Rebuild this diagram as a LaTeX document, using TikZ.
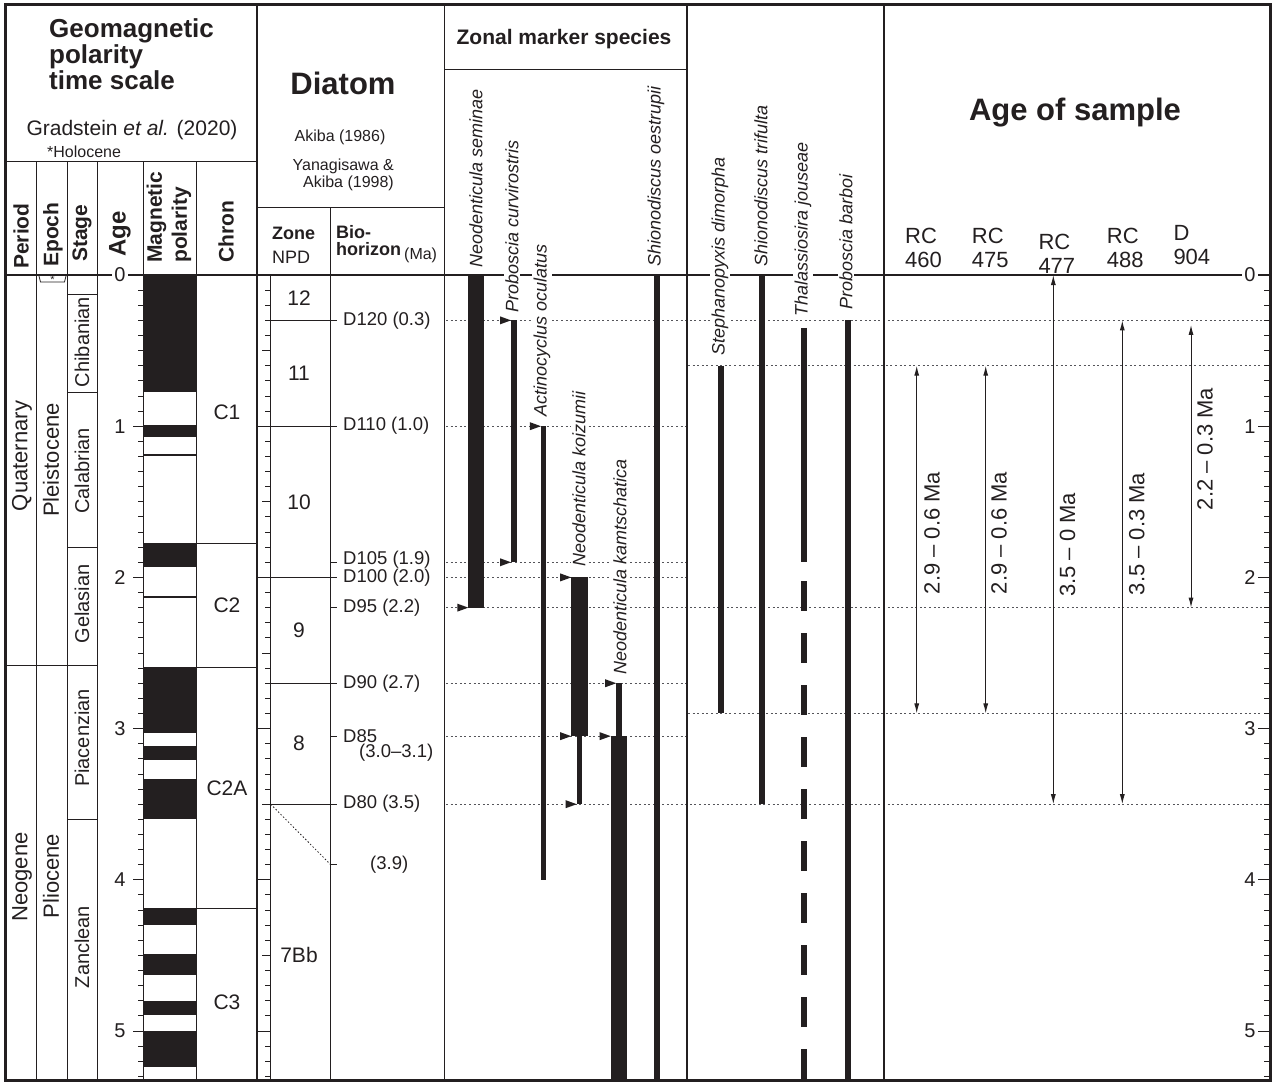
\documentclass[tikz,border=0pt]{standalone}
\usepackage{fontspec}
\setmainfont{Liberation Sans}
\usetikzlibrary{arrows.meta}
\definecolor{ink}{HTML}{231F20}
\definecolor{muted}{HTML}{55555A}
\newcommand{\yma}[1]{275+151.2*(#1)}
\newcommand{\fz}[2]{\fontsize{#1}{#2}\selectfont}
\newcommand{\fomark}[2]{\fill[ink] (#1,{\yma{#2}}) -- ++(-11,-4) -- ++(0,8) -- cycle;}
\tikzset{
  frame/.style={draw=ink,line width=3pt},
  rule/.style={draw=ink,line width=1pt},
  rulem/.style={draw=ink,line width=1.6pt},
  tick/.style={draw=ink,line width=.9pt},
  dots/.style={draw=muted,line width=.9pt,dash pattern=on 2pt off 2.6pt},
  big/.style={font=\fz{31}{36}\bfseries,text=ink,inner sep=0pt},
  hd/.style={font=\fz{21}{25}\bfseries,text=ink,inner sep=0pt,rotate=90,anchor=west,align=left},
  plain/.style={font=\fz{18.5}{22},text=ink,inner sep=0pt},
  small/.style={font=\fz{16}{17},text=ink,inner sep=0pt},
  unit/.style={font=\fz{22}{26},text=ink,inner sep=0pt,rotate=90},
  stage/.style={unit,font=\fz{20}{24}},
  zlab/.style={font=\fz{21}{24},text=ink,inner sep=0pt},
  agel/.style={font=\fz{20}{24},text=ink,inner sep=2pt,fill=white},
  samp/.style={font=\fz{22}{24},text=ink,inner sep=0pt,align=left,anchor=west},
  sp/.style={font=\fz{18}{20}\itshape,text=ink,inner sep=1.5pt,rotate=90,anchor=west,fill=white},
  rng/.style={{Latex[length=10pt,width=5pt]}-{Latex[length=10pt,width=5pt]},draw=ink,line width=1pt},
}
\begin{document}
\begin{tikzpicture}[x=1pt,y=-1pt]
  \useasboundingbox (0,0) rectangle (1279,1083);
  % dotted correlation lines
  \foreach \a in {0.3,2.2,3.5} \draw[dots] (446,{\yma{\a}}) -- (1262,{\yma{\a}});
  \foreach \a in {1.0,1.9,2.0,2.7,3.05} \draw[dots] (446,{\yma{\a}}) -- (686,{\yma{\a}});
  \foreach \a in {0.6,2.9} \draw[dots] (688,{\yma{\a}}) -- (1262,{\yma{\a}});

  % magnetic polarity
  \foreach \a/\b in {0/0.773,0.990/1.070,1.775/1.934,2.595/3.032,3.116/3.207,3.330/3.596,4.187/4.300,4.493/4.631,4.799/4.896,4.997/5.235}
    \fill[ink] (143,{\yma{\a}}) rectangle (196.3,{\yma{\b}});
  \foreach \a in {1.19,2.13} \draw[ink,line width=2pt] (143,{\yma{\a}}) -- (196.3,{\yma{\a}});

  % age ticks
  \foreach \i in {1,...,53} {
    \draw[tick] (138,{\yma{\i/10}}) -- (143,{\yma{\i/10}});
    \draw[tick] (265,{\yma{\i/10}}) -- (270.7,{\yma{\i/10}});
    \draw[tick] (1264,{\yma{\i/10}}) -- (1270,{\yma{\i/10}});
  }
  \foreach \i in {0.5,1.5,...,4.5} \draw[tick] (262,{\yma{\i}}) -- (270.7,{\yma{\i}});
  \foreach \i in {0,...,5} {
    \draw[tick] (133,{\yma{\i}}) -- (143,{\yma{\i}});
    \draw[tick] (257,{\yma{\i}}) -- (270.7,{\yma{\i}});
    \draw[tick] (1258,{\yma{\i}}) -- (1270,{\yma{\i}});
  }

  % column rules
  \foreach \x in {36.7,67.7,97.7,143,196.3} \draw[rule] (\x,162) -- (\x,1080);
  \foreach \x in {257,444.3,686.7} \draw[rulem] (\x,4) -- (\x,1080);
  \draw[draw=ink,line width=2pt] (884.3,4) -- (884.3,1080);
  \draw[rule] (270.7,275) -- (270.7,1080);
  \draw[rule] (330.7,208) -- (330.7,1080);
  \draw[rule] (5,162) -- (257,162);
  \draw[rule] (257,208) -- (444.3,208);
  \draw[rule] (444.3,69.3) -- (686.7,69.3);
  \draw[draw=ink,line width=2.5pt] (5,275) -- (1270,275);

  % period, epoch, stage and chron boundaries
  \foreach \a in {0.129,0.774,1.80,3.60} \draw[rule] (67.7,{\yma{\a}}) -- (97.7,{\yma{\a}});
  \draw[rule] (5,{\yma{2.58}}) -- (97.7,{\yma{2.58}});
  \foreach \a in {1.775,2.595,4.187} \draw[rule] (196.3,{\yma{\a}}) -- (257,{\yma{\a}});
  \draw[draw=ink,line width=.8pt] (39,276) -- (40.5,282) -- (64.5,282) -- (66,276);
  \node[font=\fz{11}{11},text=ink,inner sep=0pt] (holo) at (52.5,279.5) {*};

  % diatom zones
  \foreach \a in {0.3,2.7,3.5} \draw[rule] (270.7,{\yma{\a}}) -- (337,{\yma{\a}});
  \foreach \a in {1.0,2.0} \draw[rule] (257,{\yma{\a}}) -- (337,{\yma{\a}});
  \foreach \a in {1.9,2.2,3.05,3.9} \draw[rule] (330.7,{\yma{\a}}) -- (337,{\yma{\a}});
  \draw[draw=ink,line width=.8pt,dash pattern=on 1.5pt off 2pt] (270.7,{\yma{3.5}}) -- (330.7,{\yma{3.9}});

  % zonal marker ranges
  \draw[ink,line width=16pt] (476.3,{\yma{0}}) -- (476.3,{\yma{2.2}});
  \draw[ink,line width=5.5pt] (513.8,{\yma{0.3}}) -- (513.8,{\yma{1.9}});
  \draw[ink,line width=5.5pt] (543.7,{\yma{1.0}}) -- (543.7,{\yma{4.0}});
  \draw[ink,line width=16.5pt] (579.5,{\yma{2.0}}) -- (579.5,{\yma{3.05}});
  \draw[ink,line width=5.5pt] (579.5,{\yma{3.05}}) -- (579.5,{\yma{3.5}});
  \draw[ink,line width=5.5pt] (619,{\yma{2.7}}) -- (619,{\yma{3.05}});
  \draw[ink,line width=16pt] (618.7,{\yma{3.05}}) -- (618.7,1080);
  \draw[ink,line width=6pt] (657,{\yma{0}}) -- (657,1080);
  \fomark{468.3}{2.2}
  \fomark{511}{0.3}
  \fomark{511}{1.9}
  \fomark{540.9}{1.0}
  \fomark{571.2}{2.0}
  \fomark{571.2}{3.05}
  \fomark{576.7}{3.5}
  \fomark{616.2}{2.7}
  \fomark{610.7}{3.05}

  % other species
  \draw[ink,line width=6pt] (720.8,{\yma{0.6}}) -- (720.8,{\yma{2.9}});
  \draw[ink,line width=6pt] (761.7,{\yma{0}}) -- (761.7,{\yma{3.5}});
  \draw[ink,line width=6pt] (803.7,{\yma{0.35}}) -- (803.7,{\yma{1.9}});
  \draw[ink,line width=6pt,dash pattern=on 30pt off 22pt] (803.7,581) -- (803.7,1080);
  \draw[ink,line width=6pt] (847.9,{\yma{0.3}}) -- (847.9,1080);

  % sample ages
  \foreach \x/\a/\b in {916.7/0.6/2.9,985.7/0.6/2.9,1053.3/0/3.5,1122.3/0.3/3.5,1191/0.33/2.2}
    \draw[rng] (\x,{\yma{\a}}) -- (\x,{\yma{\b}});
  \node[unit] (r460) at (932,533) {2.9 – 0.6 Ma};
  \node[unit] (r475) at (999,533) {2.9 – 0.6 Ma};
  \node[unit] (r477) at (1067.5,545) {3.5 – 0 Ma};
  \node[unit] (r488) at (1136.7,534) {3.5 – 0.3 Ma};
  \node[unit] (r904) at (1205,449) {2.2 – 0.3 Ma};

  % headers
  \node[font=\fz{26}{26}\bfseries,text=ink,align=left,anchor=north west,inner sep=0pt] (gpts) at (49,18) {Geomagnetic\\polarity\\time scale};
  \node[font=\fz{21}{24},text=ink,inner sep=0pt] (grad) at (132,130) {Gradstein \textit{et al.} (2020)};
  \node[small,anchor=west] (holn) at (47,152) {*Holocene};
  \node[hd] (hper) at (21,269) {Period};
  \node[hd] (hepo) at (53,267) {Epoch};
  \node[hd] (hsta) at (82,262) {Stage};
  \node[hd,font=\fz{24}{25}\bfseries] (hage) at (120,257) {Age};
  \node[hd] (hpol) at (169,263) {Magnetic\\polarity};
  \node[hd] (hchr) at (226,263) {Chron};
  \node[big] (diat) at (343,83) {Diatom};
  \node[small] (akib) at (340,137) {Akiba (1986)};
  \node[small,align=right,anchor=east] (yana) at (394,175) {Yanagisawa \&\\Akiba (1998)};
  \node[font=\fz{18}{24},text=ink,align=left,anchor=west,inner sep=0pt] (zone) at (272,245) {\textbf{Zone}\\NPD};
  \node[font=\fz{18}{17},text=ink,align=left,anchor=west,inner sep=0pt] (bioh) at (336,244) {\textbf{Bio-}\\\textbf{horizon}\,\raisebox{-4pt}{\fz{16}{16}(Ma)}};
  \node[font=\fz{21}{24}\bfseries,text=ink,inner sep=0pt] (zms) at (564,39) {Zonal marker species};
  \node[big] (aos) at (1075,113) {Age of sample};
  \node[samp] (s460) at (905,248) {RC\\460};
  \node[samp] (s475) at (971.7,248) {RC\\475};
  \node[samp] (s477) at (1038.3,254) {RC\\477};
  \node[samp] (s488) at (1106.7,248) {RC\\488};
  \node[samp] (s904) at (1173.3,245) {D\\904};

  % age labels
  \foreach \i in {0,...,5} {
    \node[agel] (al\i) at (120,{\yma{\i}}) {\i};
    \node[agel] (ar\i) at (1250,{\yma{\i}}) {\i};
  }

  % units
  \node[unit] (quat) at (22,456) {Quaternary};
  \node[unit] (neog) at (22,877) {Neogene};
  \node[unit] (plei) at (51,460) {Pleistocene};
  \node[unit] (plio) at (51,876) {Pliocene};
  \node[stage] (chib) at (82,342) {Chibanian};
  \node[stage] (cala) at (82,471) {Calabrian};
  \node[stage] (gela) at (82,604) {Gelasian};
  \node[stage] (piac) at (82,738) {Piacenzian};
  \node[stage] (zanc) at (82,947) {Zanclean};
  \node[zlab] (c1) at (227,412) {C1};
  \node[zlab] (c2) at (227,605) {C2};
  \node[zlab] (c2a) at (227,788) {C2A};
  \node[zlab] (c3) at (227,1002) {C3};

  % zones and biohorizons
  \foreach \n/\t/\a in {z12/12/0.15,z11/11/0.65,z10/10/1.5,z9/9/2.35,z8/8/3.1,z7/7Bb/4.5}
    \node[zlab] (\n) at (299,{\yma{\a}}) {\t};
  \foreach \n/\t/\a in {d120/D120 (0.3)/0.3,d110/D110 (1.0)/1.0,d105/D105 (1.9)/1.885,d100/D100 (2.0)/2.0,d95/D95 (2.2)/2.2,d90/D90 (2.7)/2.7,d85/D85/3.05,d80/D80 (3.5)/3.5}
    \node[plain,anchor=west] (\n) at (343,{\yma{\a}}) {\t};
  \node[plain,anchor=west] (d85r) at (359,753) {(3.0–3.1)};
  \node[plain,anchor=west] (d39) at (370,{\yma{3.9}}) {(3.9)};

  % species names
  \node[sp] (nsem) at (476,269) {Neodenticula seminae};
  \node[sp] (pcur) at (512,314) {Proboscia curvirostris};
  \node[sp] (aocu) at (542,418) {Actinocyclus oculatus};
  \node[sp] (nkoi) at (579,568) {Neodenticula koizumii};
  \node[sp] (nkam) at (620,676) {Neodenticula kamtschatica};
  \node[sp] (soes) at (656,268) {Shionodiscus oestrupii};
  \node[sp] (sdim) at (720,357) {Stephanopyxis dimorpha};
  \node[sp] (stri) at (761,268) {Shionodiscus trifulta};
  \node[sp] (tjou) at (803,318) {Thalassiosira jouseae};
  \node[sp] (pbar) at (846,311) {Proboscia barboi};

  \draw[frame] (5.5,4.5) rectangle (1270.5,1080.5);
\end{tikzpicture}
\end{document}
